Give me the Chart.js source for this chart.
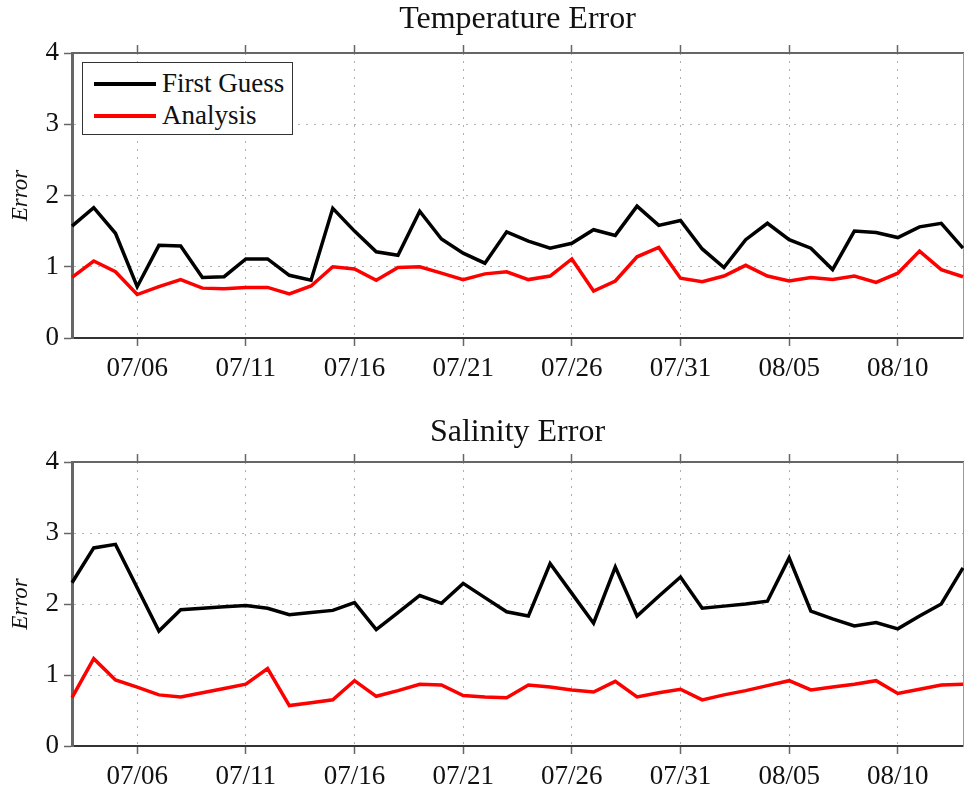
<!DOCTYPE html>
<html>
<head>
<meta charset="utf-8">
<script src="https://cdn.jsdelivr.net/npm/chart.js@4.4.1/dist/chart.umd.min.js"></script>
<style>
  body { margin: 0; background: #fff; }
  .panel { position: absolute; left: 0; width: 964px; }
  .legend {
    position: absolute; left: 82px; top: 62px; width: 211px; height: 73px;
    box-sizing: border-box; border: 1.5px solid #333; background: #fff;
    font-family: "Liberation Serif", "Times New Roman", serif; font-size: 27px; color: #111;
  }
  .legend .row { position: absolute; left: 0; height: 30px; }
  .legend .swatch { position: absolute; left: 11px; top: 14px; width: 62px; height: 3.5px; }
  .legend .label { position: absolute; left: 79px; top: 0; line-height: 30px; white-space: nowrap; }
</style>
</head>
<body>
<div class="panel" style="top:0;height:410px">
  <canvas id="tempChart" width="964" height="410"></canvas>
  <div class="legend">
    <div class="row" style="top:5px"><span class="swatch" style="background:#000"></span><span class="label">First Guess</span></div>
    <div class="row" style="top:37px"><span class="swatch" style="background:#f00"></span><span class="label">Analysis</span></div>
  </div>
</div>
<div class="panel" style="top:410px;height:385px">
  <canvas id="salChart" width="964" height="385"></canvas>
</div>
<script>
const dates = ['07/03','07/04','07/05','07/06','07/07','07/08','07/09','07/10','07/11','07/12',
  '07/13','07/14','07/15','07/16','07/17','07/18','07/19','07/20','07/21','07/22',
  '07/23','07/24','07/25','07/26','07/27','07/28','07/29','07/30','07/31','08/01',
  '08/02','08/03','08/04','08/05','08/06','08/07','08/08','08/09','08/10','08/11',
  '08/12','08/13'];

const tempFirstGuess = [1.57,1.83,1.47,0.72,1.30,1.29,0.85,0.86,1.11,1.11,
  0.88,0.81,1.82,1.50,1.21,1.16,1.78,1.39,1.19,1.05,
  1.49,1.36,1.26,1.33,1.52,1.44,1.85,1.58,1.65,1.25,
  0.99,1.38,1.61,1.38,1.26,0.96,1.50,1.48,1.41,1.56,
  1.61,1.26];
const tempAnalysis = [0.85,1.08,0.93,0.61,0.72,0.82,0.70,0.69,0.71,0.71,
  0.62,0.73,1.00,0.97,0.81,0.99,1.00,0.91,0.82,0.90,
  0.93,0.82,0.87,1.11,0.66,0.80,1.14,1.27,0.84,0.79,
  0.87,1.02,0.87,0.80,0.85,0.82,0.87,0.78,0.91,1.22,
  0.96,0.86];

const salFirstGuess = [2.30,2.79,2.84,2.23,1.62,1.92,1.94,1.96,1.98,1.94,
  1.85,1.88,1.91,2.02,1.64,1.88,2.12,2.01,2.29,2.09,
  1.89,1.83,2.57,2.15,1.73,2.52,1.83,2.11,2.38,1.94,
  1.97,2.00,2.04,2.65,1.90,1.79,1.69,1.74,1.65,1.83,
  2.00,2.51];
const salAnalysis = [0.68,1.23,0.93,0.83,0.72,0.69,0.75,0.81,0.87,1.09,
  0.57,0.61,0.65,0.92,0.70,0.78,0.87,0.86,0.71,0.69,
  0.68,0.86,0.83,0.79,0.76,0.91,0.69,0.75,0.80,0.65,
  0.72,0.78,0.85,0.92,0.79,0.83,0.87,0.92,0.74,0.80,
  0.86,0.87];

const yTicks = [0, 1, 2, 3, 4];
const labelEvery = 5;
const firstLabel = 3; // 07/06

const serif = '"Liberation Serif", "Times New Roman", serif';
const isLabelled = (i) => i >= firstLabel && (i - firstLabel) % labelEvery === 0;

function makeChart(id, title, firstGuess, analysis, titlePadTop, topAxisH, bottomAxisH) {
  return new Chart(document.getElementById(id), {
    type: 'line',
    data: {
      labels: dates,
      datasets: [
        { label: 'First Guess', data: firstGuess, borderColor: '#000', borderWidth: 3.5, pointRadius: 0, tension: 0 },
        { label: 'Analysis', data: analysis, borderColor: '#f00', borderWidth: 3.5, pointRadius: 0, tension: 0 },
      ],
    },
    options: {
      responsive: false,
      animation: false,
      devicePixelRatio: 1,
      layout: { padding: 0 },
      plugins: {
        legend: { display: false },
        tooltip: { enabled: false },
        title: {
          display: true,
          fullSize: false,
          text: title,
          color: '#111',
          font: { family: serif, size: 32, weight: 'normal' },
          padding: { top: titlePadTop, bottom: 0 },
        },
      },
      scales: {
        x: {
          type: 'category',
          position: 'bottom',
          offset: false,
          grid: {
            color: (ctx) => isLabelled(ctx.index) ? '#b0b0b0' : 'rgba(0,0,0,0)',
            lineWidth: 1,
            tickLength: 8,
            tickWidth: 1.5,
            tickColor: (ctx) => isLabelled(ctx.index) ? '#666' : 'rgba(0,0,0,0)',
            tickBorderDash: [],
          },
          border: { color: '#333', width: 2, dash: [2, 6] },
          ticks: {
            autoSkip: false,
            minRotation: 0,
            maxRotation: 0,
            padding: 7,
            color: '#111',
            font: { family: serif, size: 27 },
            callback: (v, i) => isLabelled(i) ? dates[i] : '',
          },
          afterFit: (s) => {
            s.height = bottomAxisH;
            // the tick padding is otherwise reserved at the right edge too
            s.paddingRight = 1;
          },
        },
        xTop: {
          type: 'category',
          position: 'top',
          labels: dates,
          offset: false,
          grid: {
            drawOnChartArea: false,
            tickLength: 8,
            tickWidth: 1.5,
            tickColor: (ctx) => isLabelled(ctx.index) ? '#666' : 'rgba(0,0,0,0)',
          },
          border: { color: '#666', width: 2 },
          ticks: { display: false, autoSkip: false, maxRotation: 0, padding: 0 },
          afterFit: (s) => { s.height = topAxisH; s.paddingRight = 1; },
        },
        y: {
          min: 0,
          max: 4,
          afterBuildTicks: (s) => { s.ticks = yTicks.map((v) => ({ value: v })); },
          grid: {
            color: '#b0b0b0',
            lineWidth: 1,
            tickLength: 8,
            tickWidth: 1.5,
            tickColor: '#666',
            tickBorderDash: [],
          },
          border: { color: '#666', width: 3, dash: [2, 6] },
          ticks: { padding: 5, color: '#111', font: { family: serif, size: 27 } },
          title: {
            display: true,
            text: 'Error',
            color: '#111',
            font: { family: serif, size: 23, style: 'italic' },
            padding: { top: 7, bottom: 0 },
          },
          afterFit: (s) => { s.width = 72; },
        },
        yRight: {
          position: 'right',
          min: 0,
          max: 4,
          grid: { drawOnChartArea: false, drawTicks: false },
          border: { color: '#999', width: 1 },
          ticks: { display: false },
          afterFit: (s) => { s.width = 0; },
        },
      },
    },
  });
}

makeChart('tempChart', 'Temperature Error', tempFirstGuess, tempAnalysis, 0, 14.6, 72);
makeChart('salChart', 'Salinity Error', salFirstGuess, salAnalysis, 3, 10.6, 49);
</script>
</body>
</html>
